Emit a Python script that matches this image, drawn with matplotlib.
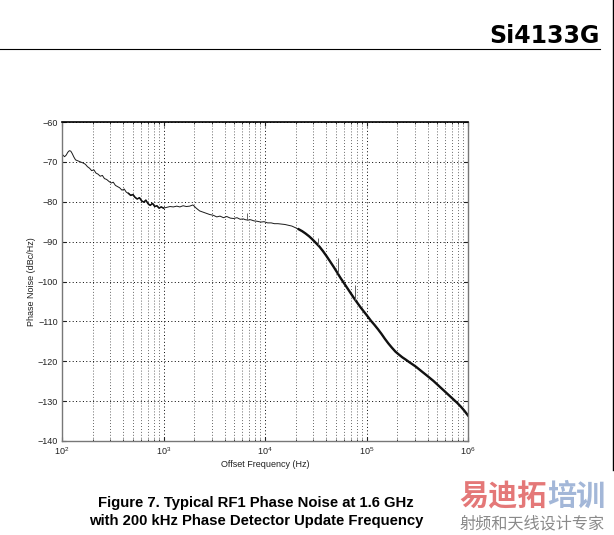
import matplotlib
matplotlib.use("Agg")
import matplotlib.pyplot as plt
import numpy as np
from matplotlib.lines import Line2D
from matplotlib.ticker import LogLocator, FixedLocator

plt.rcParams["font.family"] = ["Liberation Sans", "DejaVu Sans"]
plt.rcParams["mathtext.fontset"] = "custom"
plt.rcParams["mathtext.rm"] = "Liberation Sans"
plt.rcParams["mathtext.it"] = "Liberation Sans"

# Offset frequency (Hz) and phase noise (dBc/Hz)
freq_hz = [
    100, 103, 106, 110, 114, 118, 122, 126, 131, 136, 142, 148, 155, 162, 170,
    178, 187, 196, 206, 216, 227, 238, 250, 262, 275, 290, 305, 320, 336, 353,
    370, 390, 410, 430, 452, 475, 500, 525, 550, 580, 610, 640, 670, 705, 740,
    780, 820, 860, 905, 950, 1000,
    1080, 1160, 1250, 1350, 1450, 1560, 1680, 1810, 1950, 2100, 2270, 2450,
    2650, 2850, 3100, 3350, 3600, 3900, 4200, 4550, 4900, 5300, 5700, 6100,
    6400, 6800, 7200, 7800, 8400, 9100, 9800, 10600, 11500, 12400, 13400,
    14500, 15700, 17000, 18400, 19900, 21500, 23300, 25200, 27300, 29500,
    31900, 34500, 37300, 40300, 43600, 47100, 51000, 55100,
    59600, 64500, 69700, 75400, 81500, 88100, 95300, 103000, 111000,
    120000, 130000, 141000, 152000, 165000, 178000, 193000, 208000, 225000,
    244000, 263000, 285000, 308000, 333000, 360000, 390000, 421000, 455000,
    492000, 532000, 576000, 622000, 673000, 728000, 787000, 851000, 920000,
    1000000,
]
noise_dbc = [
    -68.0, -68.4, -68.7, -68.3, -67.6, -67.2, -67.3, -67.9, -68.8, -69.5,
    -69.7, -69.9, -70.1, -70.3, -70.6, -71.2, -71.6, -72.2, -72.0, -72.8,
    -73.1, -73.6, -73.4, -74.2, -74.4, -74.9, -75.3, -75.1, -75.9, -76.2,
    -76.5, -77.1, -76.8, -77.6, -77.9, -78.4, -78.2, -78.9, -79.3, -79.0,
    -79.8, -80.1, -79.6, -80.5, -80.9, -80.4, -81.2, -81.0, -81.6, -81.3,
    -81.6,
    -81.4, -81.2, -81.3, -81.1, -81.3, -81.0, -81.2, -81.1, -80.8, -81.6,
    -82.3, -82.6, -82.9, -83.2, -83.4, -83.8, -83.6, -84.0, -83.7, -84.1,
    -84.2, -84.0, -84.4, -84.3, -84.5, -84.6, -84.5, -84.8, -84.9,
    -85.1, -85.0, -85.3, -85.3, -85.5, -85.5, -85.6, -85.7, -85.9, -86.1,
    -86.5, -86.9, -87.4, -88.0, -88.7, -89.5, -90.4, -91.3, -92.4,
    -93.6, -94.9, -96.2, -97.6, -99.0, -100.3, -101.6, -102.9, -104.2,
    -105.4, -106.6, -107.7, -108.8, -109.9, -110.9, -112.0, -113.2,
    -114.4, -115.6, -116.6, -117.6, -118.3, -119.0, -119.6, -120.2, -120.8,
    -121.4, -122.1, -122.8, -123.5, -124.2, -124.9, -125.7, -126.5, -127.3,
    -128.1, -128.9, -129.7, -130.5, -131.4, -132.4, -133.6,
]
# narrow spurs poking above the trace
spur_hz = [6600, 33000, 52000, 77000]
spur_dbc = [-82.9, -89.2, -94.0, -101.0]
y_ticks = [-140, -130, -120, -110, -100, -90, -80, -70, -60]

freq = np.array(freq_hz, dtype=float)
pn = np.array(noise_dbc)

fig = plt.figure(figsize=(6.14, 5.35), dpi=100)
ax = fig.add_axes([62 / 614, 1 - 441 / 535, 406 / 614, 319 / 535])

# thin trace over the whole span, heavier where the measurement is noisy
ax.plot(freq, pn, color="#1a1a1a", lw=0.7)
busy = freq >= 20000
ax.plot(freq[busy], pn[busy], color="#111111", lw=1.7)
mid = (freq >= 450) & (freq <= 1000)
ax.plot(freq[mid], pn[mid], color="#111111", lw=1.1)
spur_base = np.interp(np.log10(spur_hz), np.log10(freq), pn)
ax.vlines(spur_hz, spur_base, spur_dbc, color="#666666", lw=0.7)

ax.set_xscale("log")
ax.set_xlim(1e2, 1e6)
ax.set_ylim(-140, -60)
ax.yaxis.set_major_locator(FixedLocator(y_ticks))
ax.xaxis.set_major_locator(LogLocator(base=10, numticks=10))
ax.xaxis.set_minor_locator(LogLocator(base=10, subs=np.arange(2, 10), numticks=10))
ax.xaxis.set_minor_formatter(plt.NullFormatter())

ax.grid(True, which="major", axis="both", color="black", ls=(0, (1, 2.5)), lw=0.7)
ax.grid(True, which="minor", axis="x", color="#333333", ls=(0, (1, 2.5)), lw=0.6)

ax.tick_params(which="both", direction="in", top=True, right=True,
               labelsize=6.5, colors="#222222", pad=3)
ax.tick_params(which="major", length=3)
ax.tick_params(which="minor", length=1.5)

for side in ["left", "right", "bottom"]:
    ax.spines[side].set_color("#777777")
    ax.spines[side].set_linewidth(1.0)
ax.spines["top"].set_color("black")
ax.spines["top"].set_linewidth(1.2)

ax.set_xlabel("Offset Frequency (Hz)", fontsize=6.5, color="#222222", labelpad=2)
ax.set_ylabel("Phase Noise (dBc/Hz)", fontsize=6.5, color="#222222", labelpad=1)

# page header
fig.text(600 / 614, 1 - 43 / 535, "Si4133G", ha="right", va="baseline",
         fontsize=17, fontweight="bold", family=["DejaVu Sans"])
fig.add_artist(Line2D([0, 600 / 614], [1 - 49 / 535] * 2, color="black", lw=0.8))
fig.add_artist(Line2D([612.5 / 614] * 2, [1, 1 - 470 / 535], color="black", lw=1.0))

# caption
fig.text(256 / 614, 1 - 503 / 535, "Figure 7. Typical RF1 Phase Noise at 1.6 GHz",
         ha="center", va="center", fontsize=10.7, fontweight="bold")
fig.text(256 / 614, 1 - 521 / 535, "with 200 kHz Phase Detector Update Frequency",
         ha="center", va="center", fontsize=10.7, fontweight="bold")

# watermark
cjk = ["Noto Sans CJK SC", "DejaVu Sans"]
fig.text(459 / 614, 1 - 496 / 535, "易迪拓", ha="left", va="center",
         fontsize=21, fontweight="bold", color="#e47878", family=cjk)
fig.text(547 / 614, 1 - 496 / 535, "培训", ha="left", va="center",
         fontsize=21, fontweight="bold", color="#a3b7d8", family=cjk)
fig.text(459 / 614, 1 - 524 / 535, "射频和天线设计专家", ha="left", va="center",
         fontsize=11.6, color="#8a8a8a", family=cjk)

fig.savefig("out.png", dpi=100)
